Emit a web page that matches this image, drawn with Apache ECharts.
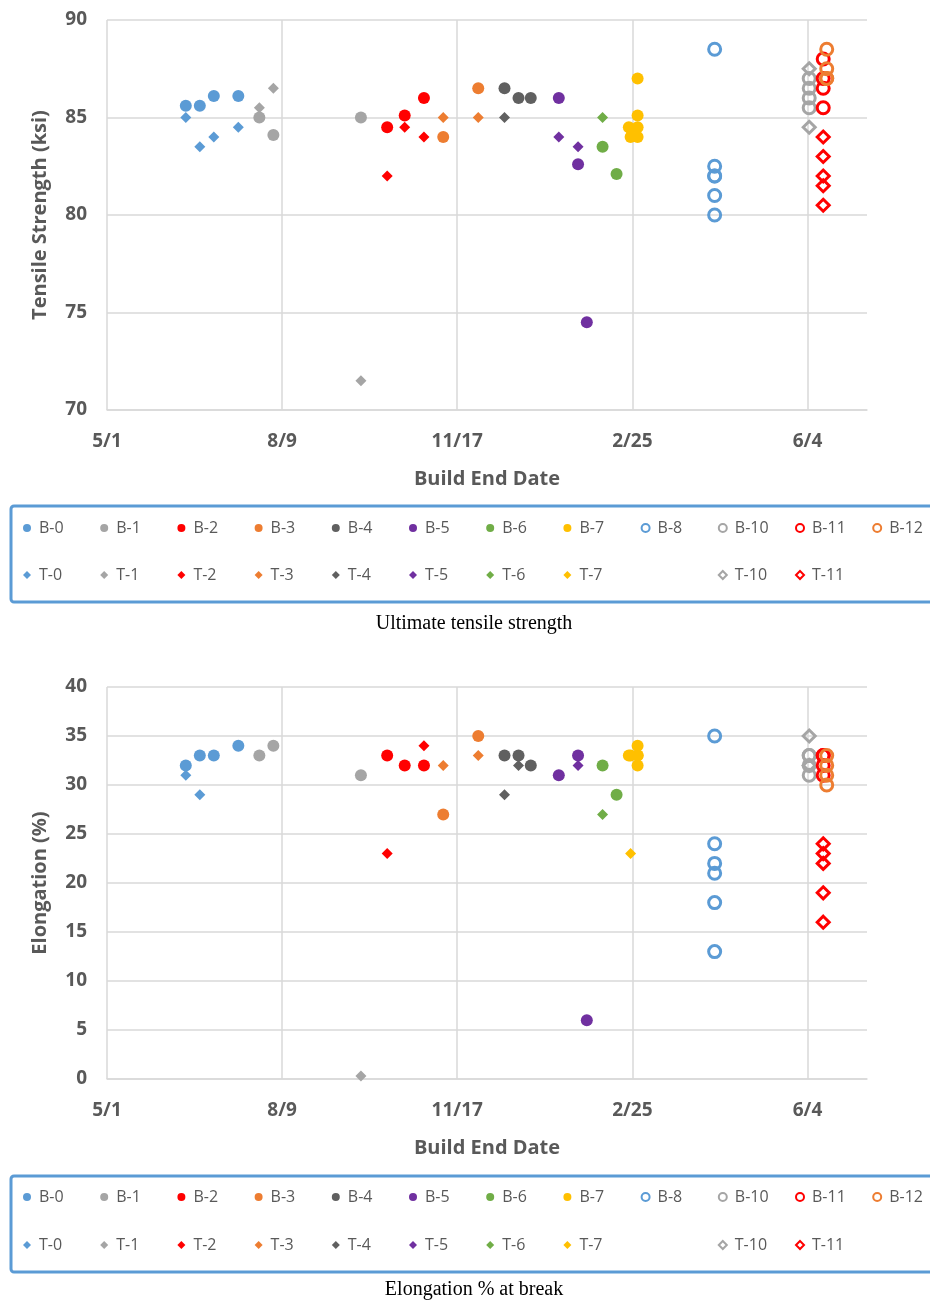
<!DOCTYPE html>
<html><head><meta charset="utf-8">
<script src="https://cdn.jsdelivr.net/npm/echarts/dist/echarts.min.js"></script>
<style>html,body{margin:0;padding:0;background:#fff}#c{width:930px;height:1302px}</style>
</head><body><div id="c"></div>
<script>
// ---------- axis / tick data ----------
const START_DATE = '2015-05-01';
const END_DATE = '2016-07-08';
const X_TICK_LABELS = ['5/1', '8/9', '11/17', '2/25', '6/4'];
const UTS_RANGE = [70, 90];
const EL_RANGE = [0, 40];

// ---------- build end dates & values ----------
const D0 = ['2015-06-15', '2015-06-23', '2015-07-01', '2015-07-15'];
const B0_UTS = [85.6, 85.6, 86.1, 86.1];
const T0_UTS = [85.0, 83.5, 84.0, 84.5];
const B0_EL = [32, 33, 33, 34];
const T0_EL = [31, 29, 33, 34];

const D1 = ['2015-07-27', '2015-08-04', '2015-09-23'];
const B1_UTS = [85.0, 84.1, 85.0];
const T1_UTS = [85.5, 86.5, 71.5];
const B1_EL = [33, 34, 31];
const T1_EL = [33, 34, 0.3];

const D2 = ['2015-10-08', '2015-10-18', '2015-10-29'];
const B2_UTS = [84.5, 85.1, 86.0];
const T2_UTS = [82.0, 84.5, 84.0];
const B2_EL = [33, 32, 32];
const T2_EL = [23, 32, 34];

const D3 = ['2015-11-09', '2015-11-29'];
const B3_UTS = [84.0, 86.5];
const T3_UTS = [85.0, 85.0];
const B3_EL = [27, 35];
const T3_EL = [32, 33];

const D4 = ['2015-12-14', '2015-12-22', '2015-12-29'];
const B4_UTS = [86.5, 86.0, 86.0];
const T4_UTS = [85.0, 86.0, null];
const B4_EL = [33, 33, 32];
const T4_EL = [29, 32, null];

const D5 = ['2016-01-14', '2016-01-25', '2016-01-30'];
const B5_UTS = [86.0, 82.6, 74.5];
const T5_UTS = [84.0, 83.5, null];
const B5_EL = [31, 33, 6];
const T5_EL = [31, 32, null];

const D6 = ['2016-02-08', '2016-02-16'];
const B6_UTS = [83.5, 82.1];
const T6_UTS = [85.0, null];
const B6_EL = [32, 29];
const T6_EL = [27, null];

const D7 = ['2016-02-23', '2016-02-24', '2016-02-28', '2016-02-28', '2016-02-28', '2016-02-28'];
const B7_UTS = [84.5, 84.0, 87.0, 85.1, 84.5, 84.0];
const T7_UTS = [null, 84.3, null, null, null, null];
const B7_EL = [33, 33, 34, 33, 32, 33];
const T7_EL = [null, 23, null, null, null, null];

const D8 = ['2016-04-12', '2016-04-12', '2016-04-12', '2016-04-12', '2016-04-12', '2016-04-12'];
const B8_UTS = [88.5, 82.5, 82.0, 82.0, 81.0, 80.0];
const B8_EL = [35, 24, 22, 21, 18, 13];

const D10 = ['2016-06-05', '2016-06-05', '2016-06-05', '2016-06-05'];
const B10_UTS = [87.0, 86.5, 86.0, 85.5];
const T10_UTS = [87.5, 84.5, null, null];
const B10_EL = [33, 33, 32, 31];
const T10_EL = [35, 32, null, null];

const D11 = ['2016-06-13', '2016-06-13', '2016-06-13', '2016-06-13', '2016-06-13'];
const B11_UTS = [88.0, 87.0, 86.5, 85.5, null];
const T11_UTS = [84.0, 83.0, 82.0, 81.5, 80.5];
const B11_EL = [33, 33, 32, 31, null];
const T11_EL = [24, 23, 22, 19, 16];

const D12 = ['2016-06-15', '2016-06-15', '2016-06-15', '2016-06-15'];
const B12_UTS = [88.5, 87.5, 87.0, 87.0];
const B12_EL = [33, 32, 31, 30];

// ---------- styling ----------
const C = {blue:'#5B9BD5', gray:'#A5A5A5', red:'#FF0000', orange:'#ED7D31', dark:'#606060', purple:'#7030A0', green:'#70AD47', yellow:'#FFC000'};
const FONT = "'Open Sans', sans-serif";
const TXT = '#595959';
const GRIDC = '#D9D9D9';

function dayOf(s) {
  const p = s.split('-').map(Number), q = START_DATE.split('-').map(Number);
  return Math.round((Date.UTC(p[0], p[1]-1, p[2]) - Date.UTC(q[0], q[1]-1, q[2])) / 86400000);
}

// series definitions (name, dates, uts, el, color, marker kind)
const defs = [
  ['T-0', D0, T0_UTS, T0_EL, C.blue, 'd'], ['B-0', D0, B0_UTS, B0_EL, C.blue, 'c'],
  ['T-1', D1, T1_UTS, T1_EL, C.gray, 'd'], ['B-1', D1, B1_UTS, B1_EL, C.gray, 'c'],
  ['T-2', D2, T2_UTS, T2_EL, C.red, 'd'], ['B-2', D2, B2_UTS, B2_EL, C.red, 'c'],
  ['T-3', D3, T3_UTS, T3_EL, C.orange, 'd'], ['B-3', D3, B3_UTS, B3_EL, C.orange, 'c'],
  ['T-4', D4, T4_UTS, T4_EL, C.dark, 'd'], ['B-4', D4, B4_UTS, B4_EL, C.dark, 'c'],
  ['T-5', D5, T5_UTS, T5_EL, C.purple, 'd'], ['B-5', D5, B5_UTS, B5_EL, C.purple, 'c'],
  ['T-6', D6, T6_UTS, T6_EL, C.green, 'd'], ['B-6', D6, B6_UTS, B6_EL, C.green, 'c'],
  ['T-7', D7, T7_UTS, T7_EL, C.yellow, 'd'], ['B-7', D7, B7_UTS, B7_EL, C.yellow, 'c'],
  ['B-8', D8, B8_UTS, B8_EL, C.blue, 'oc'],
  ['T-10', D10, T10_UTS, T10_EL, C.gray, 'od'], ['B-10', D10, B10_UTS, B10_EL, C.gray, 'oc'],
  ['T-11', D11, T11_UTS, T11_EL, C.red, 'od'], ['B-11', D11, B11_UTS, B11_EL, C.red, 'oc'],
  ['B-12', D12, B12_UTS, B12_EL, C.orange, 'oc']
];

function styleFor(kind, color) {
  if (kind === 'c') return {symbol:'circle', symbolSize:12, itemStyle:{color:color, opacity:1}};
  if (kind === 'd') return {symbol:'diamond', symbolSize:11, itemStyle:{color:color, opacity:1}};
  if (kind === 'oc') return {symbol:'circle', symbolSize:12, itemStyle:{color:'rgba(255,255,255,0)', borderColor:color, borderWidth:3, opacity:1}};
  return {symbol:'diamond', symbolSize:12, itemStyle:{color:'rgba(255,255,255,0)', borderColor:color, borderWidth:3, opacity:1}};
}

const series = [];
defs.forEach(([name, dates, uts, el, color, kind]) => {
  [uts, el].forEach((vals, g) => {
    const data = [];
    dates.forEach((d, i) => { if (vals[i] != null) data.push([dayOf(d), vals[i]]); });
    series.push(Object.assign({type:'scatter', name:name, xAxisIndex:g, yAxisIndex:g, data:data, emphasis:{disabled:true}, animation:false}, styleFor(kind, color)));
  });
});

// legend layout
const ROW1 = ['B-0','B-1','B-2','B-3','B-4','B-5','B-6','B-7','B-8','B-10','B-11','B-12'];
const ROW2 = ['T-0','T-1','T-2','T-3','T-4','T-5','T-6','T-7','','T-10','T-11',''];
const legends = [];
[[530, 577], [1199, 1247]].forEach(rows => {
  [ROW1, ROW2].forEach((row, r) => {
    row.forEach((n, col) => {
      if (!n) return;
      legends.push({data:[n], left: 23 + col*77.2, top: rows[r] - 10, padding:0, itemWidth:8, itemHeight:8, itemGap:0,
        selectedMode:false, textStyle:{color:TXT, fontSize:16, fontFamily:FONT, padding:[0,0,0,3]}});
    });
  });
});

function xAxis(g) {
  return {type:'value', gridIndex:g, min:0, max:dayOf(END_DATE), interval:100,
    axisLine:{show:true, lineStyle:{color:GRIDC, width:1.5}}, axisTick:{show:false},
    splitLine:{show:true, showMaxLine:false, lineStyle:{color:GRIDC, width:1.5}},
    axisLabel:{formatter: v => (v % 100 === 0 && X_TICK_LABELS[v/100]) ? X_TICK_LABELS[v/100] : '', showMaxLabel:false,
      color:TXT, fontWeight:'bold', fontSize:19, fontFamily:FONT, margin:22},
    name:'Build End Date', nameLocation:'middle', nameGap:59,
    nameTextStyle:{color:TXT, fontWeight:'bold', fontSize:20, fontFamily:FONT}};
}
function yAxis(g, range, name) {
  return {type:'value', gridIndex:g, min:range[0], max:range[1], interval:5,
    axisLine:{show:false}, axisTick:{show:false},
    splitLine:{show:true, lineStyle:{color:GRIDC, width:1.5}},
    axisLabel:{color:TXT, fontWeight:'bold', fontSize:19, fontFamily:FONT, margin:20},
    name:name, nameLocation:'middle', nameGap:57,
    nameTextStyle:{color:TXT, fontWeight:'bold', fontSize:20, fontFamily:FONT}};
}

const chart = echarts.init(document.getElementById('c'), null, {renderer:'canvas'});
chart.setOption({
  animation:false,
  backgroundColor:'#fff',
  grid:[{left:107, top:20, width:760, height:390}, {left:107, top:687, width:760, height:392}],
  xAxis:[xAxis(0), xAxis(1)],
  yAxis:[yAxis(0, UTS_RANGE, 'Tensile Strength (ksi)'), yAxis(1, EL_RANGE, 'Elongation (%)')],
  legend: legends,
  series: series,
  graphic: [
    {type:'rect', shape:{x:11, y:506, width:960, height:96, r:3}, style:{fill:'none', stroke:'#5B9BD5', lineWidth:3}, silent:true},
    {type:'rect', shape:{x:11, y:1176, width:960, height:96, r:3}, style:{fill:'none', stroke:'#5B9BD5', lineWidth:3}, silent:true},
    {type:'text', x:474, y:624, style:{text:'Ultimate tensile strength', fill:'#000', font:"20px 'Liberation Serif', serif", textAlign:'center', textVerticalAlign:'middle'}},
    {type:'text', x:474, y:1290, style:{text:'Elongation % at break', fill:'#000', font:"20px 'Liberation Serif', serif", textAlign:'center', textVerticalAlign:'middle'}}
  ]
});
</script></body></html>
